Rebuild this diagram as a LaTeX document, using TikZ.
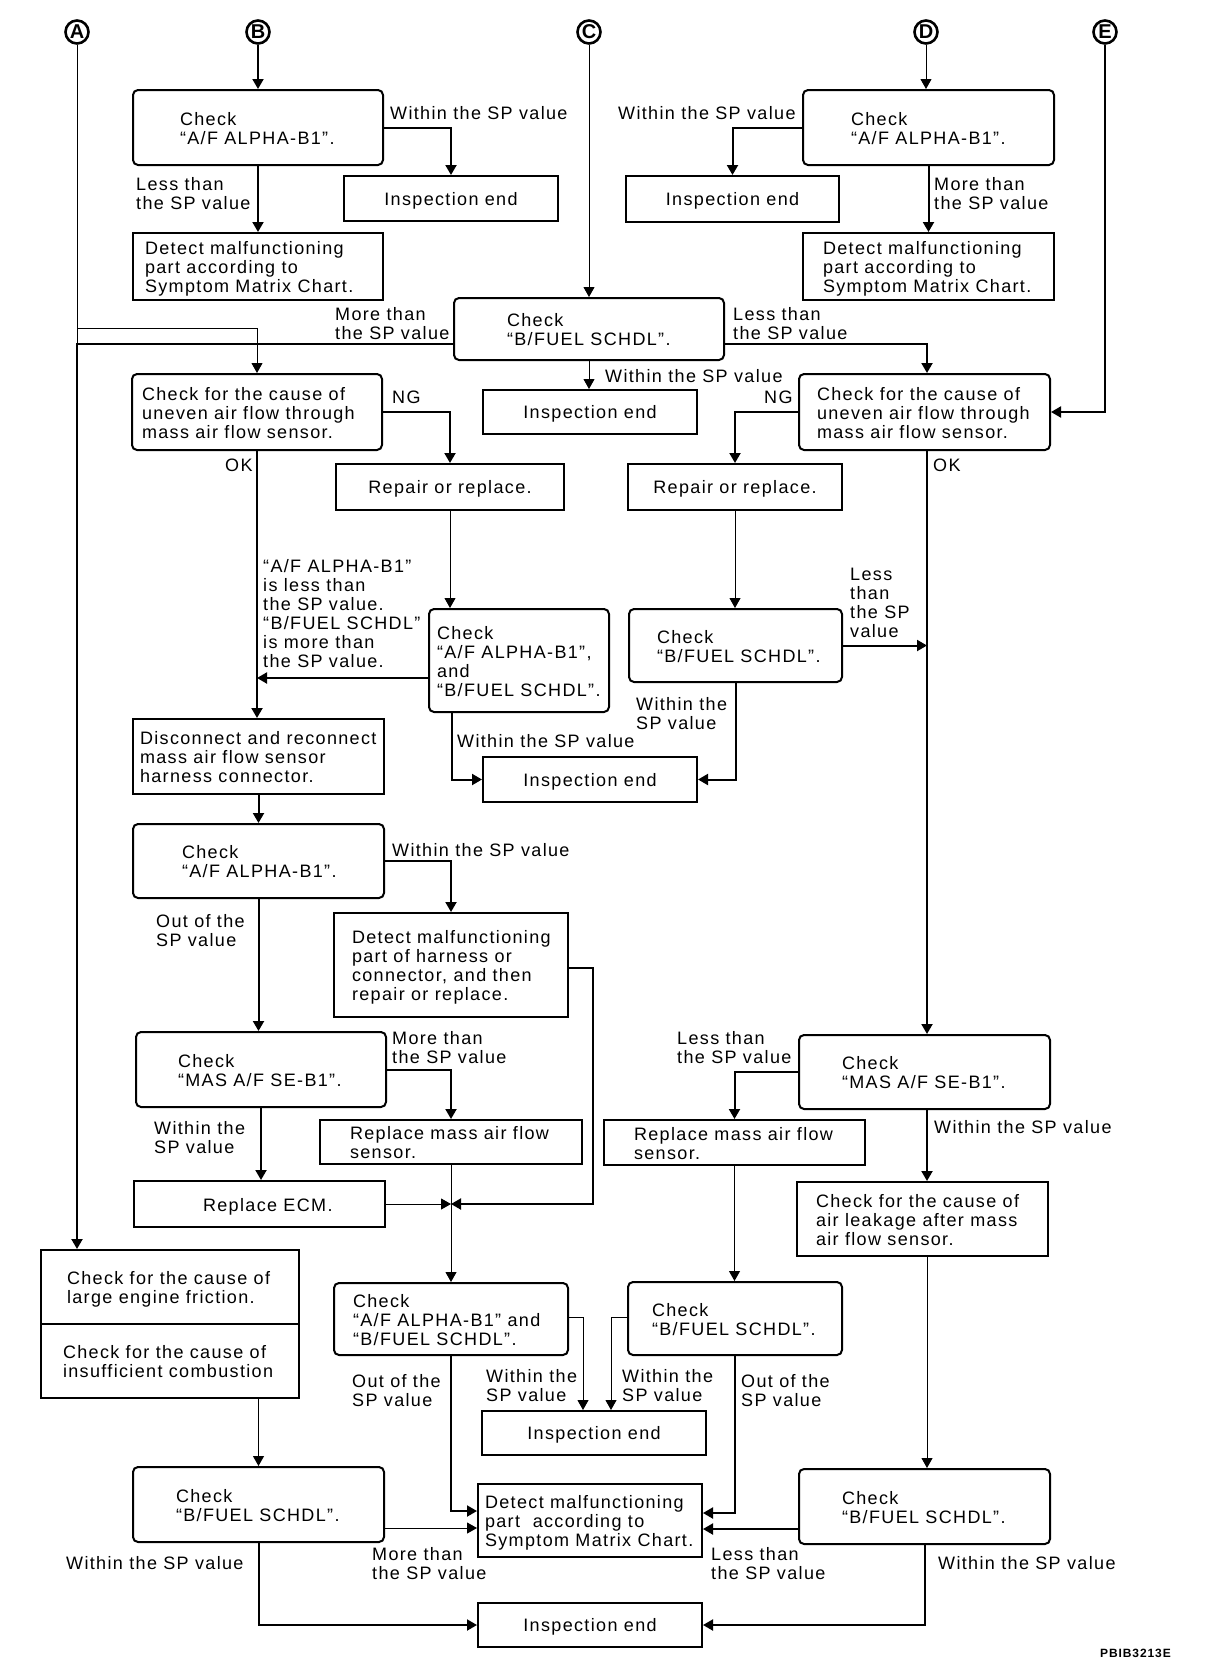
\documentclass[tikz,border=0pt]{standalone}
\usepackage{fontspec}
\setmainfont{Liberation Sans}[LetterSpace=7.5]
\usetikzlibrary{arrows.meta}
\newcommand\bxn[8]{%
  \pgfmathsetmacro\bxcx{(#3+#5)/2}%
  \pgfmathsetmacro\bxcy{(#4+#6)/2}%
  \pgfmathsetmacro\bxw{#5-#3}%
  \pgfmathsetmacro\bxh{#6-#4}%
  \pgfmathsetmacro\bxin{#7-#3}%
  \node[#2, minimum height=\bxh pt, inner sep=0pt] (#1) at (\bxcx,\bxcy)
    {\makebox[\bxw pt][l]{\hspace*{\bxin pt}\raisebox{-3.5pt}[\height][\depth]{\begin{tabular}{@{}l@{}}#8\end{tabular}}}};%
}
\newcommand\bxc[7]{%
  \pgfmathsetmacro\bxcx{(#3+#5)/2}%
  \pgfmathsetmacro\bxcy{(#4+#6)/2}%
  \pgfmathsetmacro\bxw{#5-#3}%
  \pgfmathsetmacro\bxh{#6-#4}%
  \node[#2, minimum height=\bxh pt, inner sep=0pt] (#1) at (\bxcx,\bxcy)
    {\makebox[\bxw pt][c]{\raisebox{-2pt}[\height][\depth]{#7}}};%
}
\newcommand\lbl[4]{%
  \pgfmathsetmacro\lbly{#3-6}%
  \node[lbltxt] (#1) at (#2,\lbly) {#4};%
}
\begin{document}
\begin{tikzpicture}[x=1pt,y=-1pt,
  font=\fontsize{18}{19}\selectfont,
  bx/.style={draw, line width=2pt, rectangle},
  rbx/.style={bx, rounded corners=5pt},
  lbltxt/.style={inner sep=0pt, anchor=north west, align=left},
  tk/.style={line width=2pt, -{Triangle[length=10pt,width=11pt]}},
  tn/.style={line width=1pt, -{Triangle[length=10pt,width=11pt]}},
  tkl/.style={line width=2pt},
  tnl/.style={line width=1pt},
  letc/.style={circle, draw, line width=2.6pt, minimum size=23pt, inner sep=0pt, font=\fontsize{20}{20}\selectfont\bfseries}]
\useasboundingbox (0,0) rectangle (1216,1670);
\fill[white] (0,0) rectangle (1216,1670);

% circled letters
\node[letc] (cA) at (77,32) {A};
\node[letc] (cB) at (258,32) {B};
\node[letc] (cC) at (589,32) {C};
\node[letc] (cD) at (926,32) {D};
\node[letc] (cE) at (1105,32) {E};

% boxes
\bxn{B1}{rbx}{133}{90}{383}{165}{180}{Check\\“A/F ALPHA-B1”.}
\bxc{IE1}{bx}{344}{176}{558}{221}{Inspection end}
\bxn{DM1}{bx}{133}{233}{383}{300}{145}{Detect malfunctioning\\part according to\\Symptom Matrix Chart.}
\bxn{AFD}{rbx}{803}{90}{1054}{165}{851}{Check\\“A/F ALPHA-B1”.}
\bxc{IE2}{bx}{626}{176}{839}{222}{Inspection end}
\bxn{DMD}{bx}{803}{233}{1054}{300}{823}{Detect malfunctioning\\part according to\\Symptom Matrix Chart.}
\bxn{BFC}{rbx}{454}{298}{724}{360}{507}{Check\\“B/FUEL SCHDL”.}
\bxc{IE3}{bx}{483}{390}{697}{434}{Inspection end}
\bxn{UL}{rbx}{132}{374}{382}{450}{142}{Check for the cause of\\uneven air flow through\\mass air flow sensor.}
\bxn{UR}{rbx}{799}{374}{1050}{450}{817}{Check for the cause of\\uneven air flow through\\mass air flow sensor.}
\bxc{RPL}{bx}{336}{464}{564}{510}{Repair or replace.}
\bxc{RPR}{bx}{628}{464}{842}{510}{Repair or replace.}
\bxn{AB2}{rbx}{429}{609}{609}{712}{437}{Check\\“A/F ALPHA-B1”,\\and\\“B/FUEL SCHDL”.}
\bxn{BF2}{rbx}{629}{609}{842}{682}{657}{Check\\“B/FUEL SCHDL”.}
\bxn{DC}{bx}{133}{719}{384}{794}{140}{Disconnect and reconnect\\mass air flow sensor\\harness connector.}
\bxc{IE4}{bx}{483}{757}{697}{802}{Inspection end}
\bxn{AF2}{rbx}{133}{824}{384}{898}{182}{Check\\“A/F ALPHA-B1”.}
\bxn{DH}{bx}{334}{913}{568}{1017}{352}{Detect malfunctioning\\part of harness or\\connector, and then\\repair or replace.}
\bxn{MAS1}{rbx}{136}{1032}{386}{1107}{178}{Check\\“MAS A/F SE-B1”.}
\bxn{RM1}{bx}{320}{1120}{582}{1164}{350}{Replace mass air flow\\sensor.}
\bxn{ECM}{bx}{134}{1181}{385}{1227}{203}{Replace ECM.}
\bxn{MAS2}{rbx}{799}{1035}{1050}{1109}{842}{Check\\“MAS A/F SE-B1”.}
\bxn{RM2}{bx}{604}{1120}{865}{1165}{634}{Replace mass air flow\\sensor.}
\bxn{AL}{bx}{797}{1182}{1048}{1256}{816}{Check for the cause of\\air leakage after mass\\air flow sensor.}
\bxn{LEF1}{bx}{41}{1250}{299}{1324}{67}{Check for the cause of\\large engine friction.}
\bxn{LEF2}{bx}{41}{1324}{299}{1398}{63}{Check for the cause of\\insufficient combustion}
\bxn{AB}{rbx}{334}{1283}{568}{1355}{353}{Check\\“A/F ALPHA-B1” and\\“B/FUEL SCHDL”.}
\bxn{BF4}{rbx}{628}{1282}{842}{1355}{652}{Check\\“B/FUEL SCHDL”.}
\bxc{IEM}{bx}{482}{1411}{706}{1455}{Inspection end}
\bxn{BF3}{rbx}{133}{1467}{384}{1542}{176}{Check\\“B/FUEL SCHDL”.}
\bxn{DMB}{bx}{478}{1484}{702}{1557}{485}{Detect malfunctioning\\part\ \ according to\\Symptom Matrix Chart.}
\bxn{BF5}{rbx}{799}{1469}{1050}{1544}{842}{Check\\“B/FUEL SCHDL”.}
\bxc{IEF}{bx}{478}{1603}{702}{1647}{Inspection end}

% helper coordinates
\coordinate (jA) at (77,328);
\coordinate (jM) at (77,344);
\coordinate (colR) at (927,0);
\coordinate (J) at (451,1204);
\coordinate (jR) at (593,1204);
\coordinate (x452) at (452,0);
\coordinate (x450) at (451,0);
\coordinate (x583) at (583,0);
\coordinate (x611) at (611,0);
\coordinate (y678) at (0,678);
\coordinate (y968) at (0,968);
\coordinate (y1317) at (0,1317);
\coordinate (y1511) at (0,1511);
\coordinate (y1513) at (0,1513);
\coordinate (y1528) at (0,1528);
\coordinate (y1529) at (0,1529);

% connectors
\draw[tk] (cB.south) -- (B1.north);
\draw[tk] (B1.east) -| (IE1.north);
\draw[tk] (B1.south) -- (DM1.north);
\draw[tn] (cC.south) -- (BFC.north);
\draw[tn] (cD.south) -- (cD.south |- AFD.north);
\draw[tk] (AFD.west) -| (IE2.north);
\draw[tk] (AFD.south) -- (DMD.north);
\draw[tk] (cE.south) |- (UR.east);
\draw[tnl] (cA.south) -- (jM);
\draw[tn] (jA) -| (UL.north);
\draw[tk] (BFC.west |- jM) -- (jM) -- (jM |- LEF1.north);
\draw[tk] (BFC.east |- jM) -| (colR |- UR.north);
\draw[tn] (BFC.south) -- (BFC.south |- IE3.north);
\draw[tk] (UL.east) -| (RPL.north);
\draw[tk] (UR.west) -| (RPR.north);
\draw[tn] (RPL.south) -- (RPL.south |- AB2.north);
\draw[tn] (RPR.south) -- (RPR.south |- BF2.north);
\draw[tk] (UL.south) -- (UL.south |- DC.north);
\draw[tk] (colR |- UR.south) -- (colR |- MAS2.north);
\draw[tk] (AB2.west |- y678) -- (UL.south |- y678);
\draw[tk] (x452 |- AB2.south) |- (IE4.west);
\draw[tk] (BF2.south) |- (IE4.east);
\draw[tk] (BF2.east) -- (colR |- BF2.east);
\draw[tk] (DC.south) -- (DC.south |- AF2.north);
\draw[tk] (AF2.east) -| (DH.north);
\draw[tk] (AF2.south) -- (AF2.south |- MAS1.north);
\draw[tk] (DH.east |- y968) -| (jR) -- (J);
\draw[tk] (MAS1.east) -| (RM1.north);
\draw[tk] (MAS1.south) -- (MAS1.south |- ECM.north);
\draw[tn] (ECM.east) -- (J);
\draw[tn] (RM1.south) -- (RM1.south |- AB.north);
\draw[tk] (MAS2.west) -| (RM2.north);
\draw[tk] (colR |- MAS2.south) -- (colR |- AL.north);
\draw[tn] (RM2.south) -- (RM2.south |- BF4.north);
\draw[tn] (colR |- AL.south) -- (colR |- BF5.north);
\draw[tn] (BF3.north |- LEF2.south) -- (BF3.north);
\draw[tk] (BF3.south) |- (IEF.west);
\draw[tn] (BF3.east |- y1528) -- (DMB.west |- y1528);
\draw[tn] (AB.east |- y1317) -| (x583 |- IEM.north);
\draw[tk] (x450 |- AB.south) |- (DMB.west |- y1511);
\draw[tn] (BF4.west |- y1317) -| (x611 |- IEM.north);
\draw[tk] (BF4.south) |- (DMB.east |- y1513);
\draw[tk] (BF5.west |- y1529) -- (DMB.east |- y1529);
\draw[tk] (BF5.south) |- (IEF.east);

% labels
\lbl{l1}{390}{112}{Within the SP value}
\lbl{l2}{136}{183}{Less than\\the SP value}
\lbl{l3}{618}{112}{Within the SP value}
\lbl{l4}{934}{183}{More than\\the SP value}
\lbl{l5}{335}{313}{More than\\the SP value}
\lbl{l6}{733}{313}{Less than\\the SP value}
\lbl{l7}{605}{375}{Within the SP value}
\lbl{l8}{392}{397}{NG}
\lbl{l9}{764}{397}{NG}
\lbl{l10}{225}{465}{OK}
\lbl{l11}{933}{465}{OK}
\lbl{l12}{263}{565}{“A/F ALPHA-B1”\\is less than\\the SP value.\\“B/FUEL SCHDL”\\is more than\\the SP value.}
\lbl{l13}{457}{740}{Within the SP value}
\lbl{l14}{636}{703}{Within the\\SP value}
\lbl{l15}{850}{574}{Less\\than\\the SP\\value}
\lbl{l16}{392}{849}{Within the SP value}
\lbl{l17}{156}{920}{Out of the\\SP value}
\lbl{l18}{392}{1037}{More than\\the SP value}
\lbl{l19}{154}{1127}{Within the\\SP value}
\lbl{l20}{677}{1037}{Less than\\the SP value}
\lbl{l21}{934}{1126}{Within the SP value}
\lbl{l22}{352}{1380}{Out of the\\SP value}
\lbl{l23}{486}{1375}{Within the\\SP value}
\lbl{l24}{622}{1375}{Within the\\SP value}
\lbl{l25}{741}{1380}{Out of the\\SP value}
\lbl{l26}{66}{1562}{Within the SP value}
\lbl{l27}{372}{1553}{More than\\the SP value}
\lbl{l28}{711}{1553}{Less than\\the SP value}
\lbl{l29}{938}{1562}{Within the SP value}
\node[lbltxt, font=\fontsize{12}{12}\selectfont\bfseries] (code) at (1100,1649) {PBIB3213E};
\end{tikzpicture}
\end{document}
